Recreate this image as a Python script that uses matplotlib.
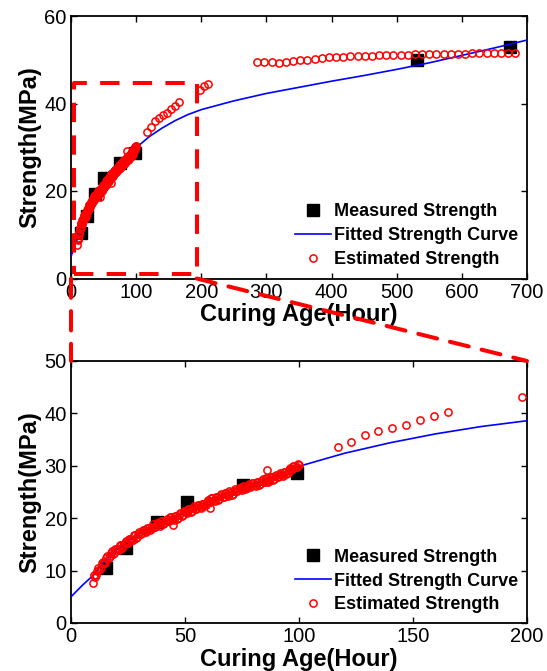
import matplotlib
matplotlib.use("Agg")
import matplotlib.pyplot as plt
from matplotlib.patches import ConnectionPatch

plt.rcParams['font.family'] = ['Liberation Sans', 'DejaVu Sans']

# ---------------- data ----------------
measured_x = [15.4, 24.1, 37.6, 50.7, 75.6, 99.0, 531, 674]
measured_y = [10.5, 14.3, 19.3, 23.0, 26.3, 28.6, 50.0, 53.0]

fit_x = [0, 5, 10, 15, 20, 25, 30, 35, 40, 45, 50, 55, 60, 70, 80, 90, 100,
         120, 140, 160, 180, 200, 250, 300, 350, 400, 450, 500, 550, 600, 650, 700]
fit_y = [5.0, 7.2, 9.2, 11.9, 14.0, 15.6, 17.0, 18.2, 19.3, 20.1, 21.0, 22.0, 23.0,
         24.7, 26.4, 28.0, 29.9, 32.4, 34.4, 36.1, 37.5, 38.6, 40.6, 42.3, 43.7,
         45.1, 46.4, 47.8, 49.3, 51.0, 52.7, 54.5]

est_dense_x = list(range(10, 101))
est_dense_y = [9.1, 9.2, 10.5, 10.5, 11.6, 11.5, 12.7, 12.7, 13.7, 13.4,
               14.2, 13.9, 14.8, 14.6, 15.6, 15.3, 16.1, 15.8, 16.7, 16.5,
               17.4, 17.1, 17.8, 17.3, 18.2, 17.9, 18.8, 18.4, 19.1, 18.6,
               19.4, 19.0, 19.9, 19.5, 20.2, 19.6, 20.4, 20.1, 21.0, 20.6,
               21.4, 20.9, 21.7, 21.4, 22.3, 21.8, 22.5, 22.0, 22.8, 22.6,
               23.5, 23.1, 23.8, 23.3, 24.0, 23.7, 24.6, 24.1, 24.8, 24.3,
               25.0, 24.7, 25.6, 25.1, 25.8, 25.3, 26.0, 25.7, 26.5, 26.1,
               26.7, 26.2, 26.9, 26.6, 27.4, 27.0, 27.6, 27.1, 27.8, 27.5,
               28.3, 27.9, 28.5, 28.1, 28.9, 28.7, 29.6, 29.3, 30.0, 29.7, 30.2]
est_half_x = [h + 0.5 for h in range(10, 100)]
est_half_y = [8.8, 9.9, 10.2, 11.4, 11.5, 12.5, 12.4, 13.3, 13.2, 14.2,
              14.0, 14.8, 14.4, 15.2, 15.2, 16.0, 15.9, 16.7, 16.3, 17.0,
              17.0, 17.8, 17.5, 18.2, 17.7, 18.4, 18.3, 19.1, 18.8, 19.4,
              18.9, 19.5, 19.4, 20.2, 19.9, 20.4, 19.9, 20.6, 20.5, 21.4,
              21.1, 21.7, 21.2, 21.9, 21.8, 22.5, 22.2, 22.8, 22.4, 23.1,
              23.0, 23.8, 23.5, 24.1, 23.5, 24.2, 24.1, 24.8, 24.5, 25.1,
              24.5, 25.2, 25.1, 25.8, 25.5, 26.1, 25.5, 26.2, 26.0, 26.8,
              26.4, 27.0, 26.4, 27.1, 26.9, 27.7, 27.3, 27.9, 27.3, 28.0,
              27.8, 28.6, 28.3, 28.9, 28.5, 29.2, 29.2, 30.0, 29.7, 30.3]
est_outlier_x = [9.8, 44.9, 61.0, 85.8, 86.4]
est_outlier_y = [7.6, 18.7, 21.9, 29.2, 27.0]
est_mid_x = [117, 122.8, 129, 134.5, 141, 146.8, 153, 159.2, 165.5, 198, 204, 210]
est_mid_y = [33.6, 34.6, 35.9, 36.7, 37.3, 37.8, 38.7, 39.5, 40.3, 43.1, 44.0, 44.5]
est_late_x = [286, 297, 308, 319, 330, 341, 352, 363, 374, 385, 396, 407, 418,
              429, 440, 451, 462, 473, 484, 495, 506, 517, 528, 539, 550, 561,
              572, 583, 594, 605, 616, 627, 638, 649, 660, 671, 682]
est_late_y = [49.4, 49.5, 49.6, 49.3, 49.6, 49.8, 49.9, 50.0, 50.2, 50.4, 50.6,
              50.7, 50.7, 50.8, 50.8, 50.8, 50.9, 51.0, 51.0, 51.1, 51.2, 51.2,
              51.3, 51.3, 51.3, 51.3, 51.3, 51.3, 51.4, 51.4, 51.5, 51.5, 51.5,
              51.6, 51.6, 51.6, 51.5]

est_x = est_dense_x + est_half_x + est_outlier_x + est_mid_x + est_late_x
est_y = est_dense_y + est_half_y + est_outlier_y + est_mid_y + est_late_y

top_xticks = [0, 100, 200, 300, 400, 500, 600, 700]
top_yticks = [0, 20, 40, 60]
bot_xticks = [0, 50, 100, 150, 200]
bot_yticks = [0, 10, 20, 30, 40, 50]

labels = ["Measured Strength", "Fitted Strength Curve", "Estimated Strength"]
xlabel = "Curing Age(Hour)"
ylabel = "Strength(MPa)"

# ---------------- figure ----------------
W, H = 547, 671
fig = plt.figure(figsize=(W / 100, H / 100), dpi=100)

def px_axes(l, t, r, b):
    return fig.add_axes([l / W, 1 - b / H, (r - l) / W, (b - t) / H])

ax1 = px_axes(71, 16, 527, 278.5)
ax2 = px_axes(71, 361, 527, 623)

def draw(ax, xlim, ylim, xticks, yticks, leg_y):
    ax.plot(measured_x, measured_y, 's', color='black', markersize=9.2,
            label=labels[0], zorder=2)
    ax.plot(fit_x, fit_y, '-', color='#0000ff', linewidth=1.2,
            label=labels[1], zorder=3)
    ax.plot(est_x, est_y, 'o', markerfacecolor='none', markeredgecolor='#ff0000',
            markersize=5.2, markeredgewidth=1.1, linestyle='none',
            label=labels[2], zorder=4)
    ax.set_xlim(*xlim)
    ax.set_ylim(*ylim)
    ax.set_xticks(xticks)
    ax.set_yticks(yticks)
    ax.tick_params(direction='in', top=True, right=True, length=4, width=1,
                   labelsize=14.5, pad=3)
    for s in ax.spines.values():
        s.set_linewidth(1.3)
    ax.set_xlabel(xlabel, fontsize=17, fontweight='bold', labelpad=1)
    ax.set_ylabel(ylabel, fontsize=17, fontweight='bold', labelpad=2)
    ax.legend(loc='lower right', bbox_to_anchor=(1.0, leg_y),
              frameon=False, prop={'size': 13, 'weight': 'bold'},
              handlelength=2.0, handletextpad=0.15, labelspacing=0.38,
              borderpad=0.3, borderaxespad=0.2)

draw(ax1, (0, 700), (0, 60), top_xticks, top_yticks, 0.006)
draw(ax2, (0, 200), (0, 50), bot_xticks, bot_yticks, 0.002)

# zoom rectangle in the top axes
red = '#ff0000'
dash = (4.8, 3.3)
rect_x = [4, 193, 193, 4, 4]
rect_y = [1, 1, 44.6, 44.6, 1]
ax1.plot(rect_x, rect_y, color=red, linewidth=2.9, dashes=dash,
         clip_on=False, zorder=5)

# connector lines
for (xa, ya), (xb, yb) in [((0, 0), (0, 50)), ((193, 0), (200, 50))]:
    con = ConnectionPatch(xyA=(xa, ya), coordsA=ax1.transData,
                          xyB=(xb, yb), coordsB=ax2.transData,
                          color=red, linewidth=2.9, linestyle=(0, dash),
                          zorder=6)
    fig.add_artist(con)

fig.savefig("out.png", dpi=100)
